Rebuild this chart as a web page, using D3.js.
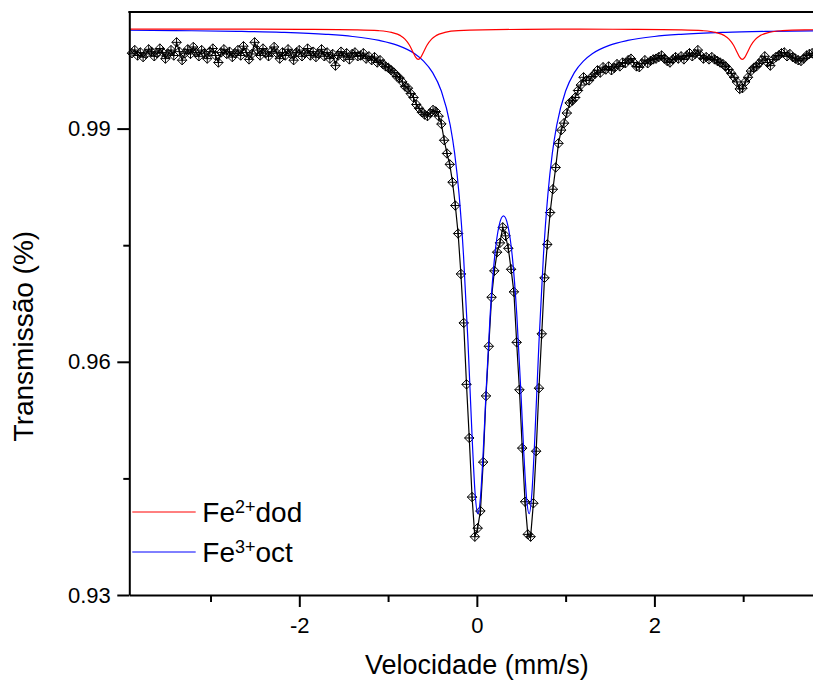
<!DOCTYPE html>
<html>
<head>
<meta charset="utf-8">
<script src="https://d3js.org/d3.v7.min.js"></script>
<style>
  body { margin: 0; background: #fff; }
  svg { display: block; }
</style>
</head>
<body>
<div id="chart"></div>
<script>
// measured spectrum, one value per channel (transmission)
var transmission = [
  0.9997, 1.0001, 0.9994, 0.9998, 0.9992, 0.9996, 1.0002, 0.9999, 0.9993, 0.9997,
  1.0003, 0.9998, 0.9990, 0.9996, 1.0001, 0.9994, 1.0011, 0.9999, 0.9988, 0.9997,
  1.0002, 0.9996, 1.0005, 0.9998, 0.9993, 1.0001, 0.9997, 0.9990, 0.9999, 1.0003,
  0.9994, 0.9985, 0.9998, 1.0002, 0.9996, 0.9999, 0.9992, 0.9997, 1.0001, 0.9994,
  1.0006, 0.9998, 0.9989, 0.9996, 1.0011, 1.0001, 0.9994, 1.0003, 0.9997, 0.9993,
  0.9999, 1.0005, 0.9997, 0.9990, 0.9998, 0.9994, 1.0002, 0.9996, 0.9988, 0.9998,
  1.0001, 0.9993, 0.9997, 1.0003, 0.9994, 0.9999, 0.9992, 0.9996, 1.0002, 0.9993,
  0.9998, 0.9990, 0.9996, 0.9981, 0.9994, 0.9999, 0.9992, 0.9997, 0.9989, 0.9996,
  0.9998, 0.9993, 0.9994, 0.9997, 0.9990, 0.9993, 0.9988, 0.9992, 0.9985, 0.9988,
  0.9983, 0.9980, 0.9978, 0.9975, 0.9972, 0.9967, 0.9965, 0.9960, 0.9954, 0.9952,
  0.9945, 0.9940, 0.9931, 0.9926, 0.9921, 0.9918, 0.9916, 0.9920, 0.9924, 0.9922,
  0.9916, 0.9906, 0.9885, 0.9868, 0.9854, 0.9831, 0.9801, 0.9765, 0.9713, 0.9650,
  0.9571, 0.9502, 0.9426, 0.9375, 0.9386, 0.9408, 0.9471, 0.9556, 0.9620, 0.9683,
  0.9717, 0.9741, 0.9753, 0.9773, 0.9762, 0.9746, 0.9719, 0.9690, 0.9625, 0.9564,
  0.9489, 0.9420, 0.9378, 0.9375, 0.9418, 0.9485, 0.9566, 0.9636, 0.9708, 0.9751,
  0.9792, 0.9822, 0.9850, 0.9881, 0.9898, 0.9907, 0.9920, 0.9933, 0.9936, 0.9940,
  0.9949, 0.9956, 0.9966, 0.9962, 0.9962, 0.9967, 0.9970, 0.9975, 0.9972, 0.9979,
  0.9976, 0.9980, 0.9975, 0.9978, 0.9983, 0.9980, 0.9985, 0.9984, 0.9988, 0.9990,
  0.9985, 0.9980, 0.9979, 0.9984, 0.9988, 0.9984, 0.9987, 0.9989, 0.9990, 0.9992,
  0.9994, 0.9990, 0.9987, 0.9985, 0.9989, 0.9992, 0.9990, 0.9993, 0.9989, 0.9994,
  0.9997, 0.9993, 0.9996, 1.0001, 0.9994, 0.9990, 0.9992, 0.9989, 0.9992, 0.9989,
  0.9987, 0.9985, 0.9983, 0.9980, 0.9976, 0.9971, 0.9966, 0.9960, 0.9951, 0.9952,
  0.9960, 0.9966, 0.9974, 0.9978, 0.9980, 0.9984, 0.9988, 0.9993, 0.9985, 0.9981,
  0.9989, 0.9992, 0.9994, 0.9997, 0.9998, 0.9993, 0.9996, 0.9992, 0.9990, 0.9988,
  0.9987, 0.9990, 0.9994, 0.9996, 0.9997, 0.9994, 0.9996, 0.9993, 0.9997, 0.9994
];

// velocity of the first and last channel (mm/s)
var velocityRange = [-3.885, 3.934];

// Fe3+ octahedral doublet (fit component)
var fe3Velocity = [-4.0, -3.4, -2.7, -2.2, -1.7, -1.4, -1.1, -0.9, -0.7, -0.6, -0.5, -0.4, -0.3, -0.25, -0.2, -0.15, -0.1, -0.05, -0.02, 0.01,
  0.04, 0.07, 0.1, 0.15, 0.2, 0.25, 0.3, 0.35, 0.4, 0.45, 0.5, 0.53, 0.56, 0.59, 0.62, 0.65, 0.7, 0.75, 0.8, 0.85,
  0.9, 1.0, 1.1, 1.2, 1.3, 1.5, 1.7, 2.0, 2.3, 2.8, 3.3, 4.0, 4.6];
var fe3Transmission = [1.00266, 1.00261, 1.00251, 1.00238, 1.00213, 1.00185, 1.00134, 1.00074, 0.99963, 0.99869, 0.99724, 0.99483, 0.99044, 0.98681, 0.98150, 0.97365, 0.96256, 0.94945, 0.94313, 0.94045,
  0.94243, 0.94805, 0.95517, 0.96606, 0.97347, 0.97750, 0.97876, 0.97750, 0.97347, 0.96606, 0.95517, 0.94805, 0.94243, 0.94045, 0.94313, 0.94945, 0.96256, 0.97365, 0.98150, 0.98681,
  0.99044, 0.99483, 0.99724, 0.99869, 0.99963, 1.00074, 1.00134, 1.00185, 1.00213, 1.00238, 1.00251, 1.00261, 1.00266];

// Fe2+ dodecahedral doublet (fit component)
var fe2Velocity = [-4.0, -2.5, -1.86, -1.36, -1.11, -0.96, -0.86, -0.81, -0.76, -0.72, -0.69, -0.66, -0.63, -0.60, -0.56, -0.51, -0.46, -0.36, -0.21,
  0.54, 1.16, 1.79, 2.29, 2.54, 2.69, 2.79, 2.84, 2.89, 2.93, 2.96, 2.99, 3.02, 3.05, 3.09, 3.14, 3.19, 3.29, 3.44, 3.69, 4.6];
var fe2Transmission = [1.00280, 1.00279, 1.00277, 1.00271, 1.00260, 1.00237, 1.00196, 1.00152, 1.00076, 0.99986, 0.99919, 0.99890, 0.99919, 0.99986, 1.00076, 1.00152, 1.00196, 1.00237, 1.00260,
  1.00277, 1.00279, 1.00277, 1.00271, 1.00260, 1.00237, 1.00196, 1.00152, 1.00076, 0.99986, 0.99919, 0.99890, 0.99919, 0.99986, 1.00076, 1.00152, 1.00196, 1.00237, 1.00260, 1.00271, 1.00277];

// ticks
var xMajorTicks = [-2, 0, 2],
    xMinorTicks = [-3, -1, 1, 3],
    yMajorTicks = [0.93, 0.96, 0.99],
    yMinorTicks = [0.945, 0.975];

// legend
var legendCharges = ["2+", "3+"],
    legendSites = ["dod", "oct"],
    legendColors = ["#ff0000", "#0000ff"];

var font = "'Liberation Sans', Arial, Helvetica, sans-serif";

var margin = {top: 12, left: 129.3},
    width = 695.1,
    height = 583;

var x = d3.scaleLinear()
    .domain([-3.915, 3.915])
    .range([0, width]);

var y = d3.scaleLinear()
    .domain([0.93, 1.005])
    .range([height, 0]);

// channel number -> velocity
var channel = d3.scaleLinear()
    .domain([0, transmission.length - 1])
    .range(velocityRange);

var points = transmission.map(function(t, i) { return {v: channel(i), t: t}; });
var fe3 = fe3Velocity.map(function(v, i) { return {v: v, t: fe3Transmission[i]}; });
var fe2 = fe2Velocity.map(function(v, i) { return {v: v, t: fe2Transmission[i]}; });

var root = d3.select("#chart").append("svg")
    .attr("width", 813)
    .attr("height", 681)
    .style("font-family", font);

var svg = root.append("g")
    .attr("transform", "translate(" + margin.left + "," + margin.top + ")");

svg.append("clipPath")
    .attr("id", "plot-clip")
  .append("rect")
    .attr("width", width)
    .attr("height", height);

var dataLine = d3.line()
    .x(function(d) { return x(d.v); })
    .y(function(d) { return y(d.t); });

var fitLine = d3.line()
    .x(function(d) { return x(d.v); })
    .y(function(d) { return y(d.t); })
    .curve(d3.curveMonotoneX);

// data: connecting line
svg.append("path")
    .datum(points)
    .attr("clip-path", "url(#plot-clip)")
    .attr("fill", "none")
    .attr("stroke", "#000")
    .attr("stroke-width", 1.2)
    .attr("d", dataLine);

// data: diamond + cross markers
var r = 4.7;
var marker = "M0," + (-r) + "L" + r + ",0L0," + r + "L" + (-r) + ",0Z" +
             "M0," + (-r) + "V" + r + "M" + (-r) + ",0H" + r;

svg.append("g")
    .attr("class", "markers")
  .selectAll("path")
    .data(points)
    .enter().append("path")
    .attr("transform", function(d) { return "translate(" + x(d.v) + "," + y(d.t) + ")"; })
    .attr("d", marker)
    .attr("fill", "none")
    .attr("stroke", "#000")
    .attr("stroke-width", 1);

// fit components
svg.append("path")
    .datum(fe3)
    .attr("clip-path", "url(#plot-clip)")
    .attr("fill", "none")
    .attr("stroke", legendColors[1])
    .attr("stroke-width", 1.2)
    .attr("d", fitLine);

svg.append("path")
    .datum(fe2)
    .attr("clip-path", "url(#plot-clip)")
    .attr("fill", "none")
    .attr("stroke", legendColors[0])
    .attr("stroke-width", 1.2)
    .attr("d", fitLine);

// axes
var xAxis = svg.append("g")
    .attr("class", "x-axis")
    .attr("transform", "translate(0," + height + ")")
    .call(d3.axisBottom(x)
      .tickValues(xMajorTicks)
      .tickSize(12)
      .tickSizeOuter(0)
      .tickPadding(10.5)
      .tickFormat(function(d) { return String(d); }));

svg.append("g")
    .attr("class", "x-axis-minor")
    .attr("transform", "translate(0," + height + ")")
    .call(d3.axisBottom(x)
      .tickValues(xMinorTicks)
      .tickSize(7)
      .tickFormat(""))
    .select(".domain").remove();

var yAxis = svg.append("g")
    .attr("class", "y-axis")
    .call(d3.axisLeft(y)
      .tickValues(yMajorTicks)
      .tickSize(12)
      .tickSizeOuter(0)
      .tickPadding(6.5)
      .tickFormat(d3.format(".2f")));

svg.append("g")
    .attr("class", "y-axis-minor")
    .call(d3.axisLeft(y)
      .tickValues(yMinorTicks)
      .tickSize(6)
      .tickFormat(""))
    .select(".domain").remove();

svg.selectAll(".x-axis, .x-axis-minor, .y-axis, .y-axis-minor")
    .attr("font-family", font)
    .attr("font-size", 22);

svg.selectAll(".domain, .tick line")
    .attr("stroke", "#000")
    .attr("stroke-width", 2);

svg.selectAll(".tick text")
    .attr("fill", "#000");

// frame: top and right
svg.append("line")
    .attr("x1", 0).attr("x2", width)
    .attr("y1", 0).attr("y2", 0)
    .attr("stroke", "#000")
    .attr("stroke-width", 2)
    .attr("stroke-linecap", "square");

svg.append("line")
    .attr("x1", width).attr("x2", width)
    .attr("y1", 0).attr("y2", height)
    .attr("stroke", "#000")
    .attr("stroke-width", 2);

// axis titles
svg.append("text")
    .attr("x", width / 2)
    .attr("y", height + 79)
    .attr("text-anchor", "middle")
    .attr("font-size", 27)
    .text("Velocidade (mm/s)");

svg.append("text")
    .attr("text-anchor", "middle")
    .attr("font-size", 28)
    .attr("transform", "translate(-96.3," + (height * 0.556) + ") rotate(-90)")
    .text("Transmissão (%)");

// legend
var legend = svg.append("g")
    .attr("class", "legend")
    .attr("transform", "translate(3,500)");

var item = legend.selectAll("g")
    .data(legendCharges)
    .enter().append("g")
    .attr("transform", function(d, i) { return "translate(0," + (i * 40) + ")"; });

item.append("line")
    .attr("x1", 0).attr("x2", 63.4)
    .attr("y1", 0).attr("y2", 0)
    .attr("stroke", function(d, i) { return legendColors[i]; })
    .attr("stroke-width", 1);

var label = item.append("text")
    .attr("x", 70)
    .attr("y", 10)
    .attr("font-size", 28)
    .attr("fill", "#000");

label.append("tspan").text("Fe");
label.append("tspan")
    .attr("font-size", 18)
    .attr("dy", -9.5)
    .text(function(d) { return d; });
label.append("tspan")
    .attr("dy", 9.5)
    .text(function(d, i) { return legendSites[i]; });
</script>
</body>
</html>
